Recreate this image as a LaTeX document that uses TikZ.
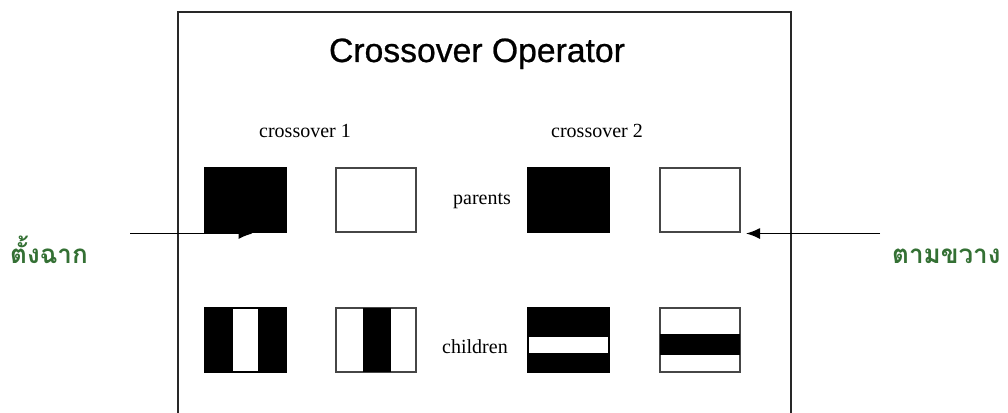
\documentclass[tikz,border=0pt]{standalone}
\usepackage{fontspec}
\setmainfont{Liberation Serif}
\newfontfamily\titlefont[FakeBold=0.7]{Liberation Sans}
\newfontfamily\thaifont[Script=Thai]{Loma}
\usetikzlibrary{arrows.meta}
\definecolor{thaigreen}{RGB}{52,112,52}
\definecolor{framegray}{RGB}{40,40,40}
\definecolor{boxgray}{RGB}{70,70,70}
\begin{document}
\begin{tikzpicture}[x=1pt,y=-1pt,
  gbox/.style={draw=boxgray,line width=1.6pt,fill=white,minimum width=80pt,minimum height=64pt,inner sep=0pt,outer sep=0pt},
  bbox/.style={gbox,draw=black,fill=black},
  lbl/.style={font=\fontsize{20}{22}\selectfont,inner sep=0pt,anchor=base},
  thai/.style={font=\thaifont\bfseries\fontsize{26}{30}\selectfont,text=thaigreen,inner sep=0pt,anchor=base west},
  arr/.style={line width=1.4pt,-{Latex[length=14pt,width=11pt]}},
  frame/.style={draw=framegray,line width=2.4pt}]
\useasboundingbox (0,0) rectangle (1008,412);
% frame
\draw[frame] (178,413) -- (178,12) -- (791,12) -- (791,413);
% title
\node[inner sep=0pt,anchor=base,font=\titlefont\fontsize{33.7}{36}\selectfont] (title) at (477,62) {Crossover Operator};
\node[lbl] (c1) at (305,137) {crossover 1};
\node[lbl] (c2) at (597,137) {crossover 2};
% parents row
\node[bbox,minimum width=81pt] (p1) at (245.5,200) {};
\node[gbox] (p2) at (376,200) {};
\node[bbox,minimum width=81pt] (p3) at (568.5,200) {};
\node[gbox] (p4) at (700,200) {};
\node[lbl] (par) at (482,204) {parents};
% children row
\node[bbox,minimum width=81pt] (k1) at (245.5,340) {};
\fill[white] (233,309) rectangle (258,371);
\node[gbox] (k2) at (376,340) {};
\fill[black] (363,308) rectangle (391,372);
\node[bbox,minimum width=81pt] (k3) at (568.5,340) {};
\fill[white] (529,337) rectangle (608,353);
\node[gbox] (k4) at (700,340) {};
\fill[black] (660,334) rectangle (740,355);
\node[lbl] (chi) at (475,353) {children};
% arrows and labels
\node[thai] (t1) at (10,263) {ตั้งฉาก};
\node[thai] (t2) at (892,263) {ตามขวาง};
\coordinate (la) at (130,233.5);
\coordinate (ra) at (880,233.5);
\path ([xshift=7pt]p1.south) coordinate (p1t);
\path ([xshift=6pt]p4.south east) coordinate (p4t);
\draw[arr] (la) -- (la -| p1t);
\draw[arr] (ra) -- (ra -| p4t);
\end{tikzpicture}
\end{document}
